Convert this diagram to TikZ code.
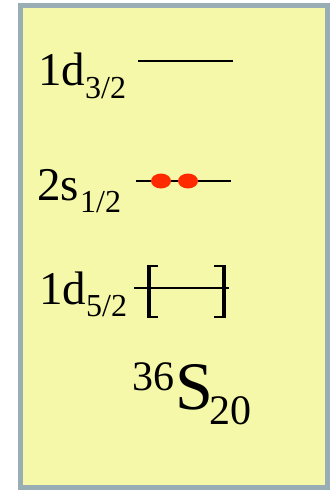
\documentclass[tikz,border=0pt]{standalone}
\usepackage{fontspec}
\setmainfont{Liberation Serif}
\definecolor{boxfill}{HTML}{F5F8A8}
\definecolor{boxedge}{HTML}{98AEB4}
\definecolor{dotred}{HTML}{FF2A00}
\begin{document}
\begin{tikzpicture}[x=1pt,y=-1pt]
\tikzset{
  lbl/.style={inner sep=0,anchor=base west,font=\fontsize{47}{50}\selectfont},
  sublbl/.style={inner sep=0,anchor=base west,font=\fontsize{32}{36}\selectfont},
  level/.style={line width=2pt},
  brackbar/.style={line width=3.5pt},
  brackserif/.style={line width=2.5pt},
  electron/.style={fill=dotred}
}
\useasboundingbox (0,0) rectangle (334,490);
\draw[boxedge, fill=boxfill, line width=5pt] (20.5,5.5) rectangle (327.5,487);

% 1d3/2
\node[lbl] (l1) at (38,85) {1d};
\node[sublbl] (s1) at (85,98) {3/2};
\coordinate (a1) at (138,61); \coordinate (b1) at (233,61);
\draw[level] (a1) -- (b1);

% 2s1/2
\node[lbl] (l2) at (37,200) {2s};
\node[sublbl] (s2) at (80,212) {1/2};
\coordinate (a2) at (136,181); \coordinate (b2) at (231,181);
\draw[level] (a2) -- (b2);
\fill[electron] (161,181) ellipse (10 and 7.5);
\fill[electron] (188,181) ellipse (10 and 7.5);

% 1d5/2
\node[lbl] (l3) at (39,304) {1d};
\node[sublbl] (s3) at (86,316) {5/2};
\coordinate (a3) at (134,288); \coordinate (b3) at (229,288);
\draw[level] (a3) -- (b3);
\draw[brackbar] (149,265) -- (149,318);
\draw[brackserif] (147.5,266) -- (158,266) (147.5,317) -- (158,317);
\draw[brackbar] (224,265) -- (224,318);
\draw[brackserif] (225.5,266) -- (214,266) (225.5,317) -- (214,317);

% 36S20
\node[inner sep=0,anchor=base west,font=\fontsize{42}{46}\selectfont] (mass) at (132,390) {36};
\node[inner sep=0,anchor=base west,font=\fontsize{68}{72}\selectfont] (elem) at (175,409) {S};
\node[inner sep=0,anchor=base west,font=\fontsize{42}{46}\selectfont] (neut) at (209,424) {20};
\end{tikzpicture}
\end{document}
